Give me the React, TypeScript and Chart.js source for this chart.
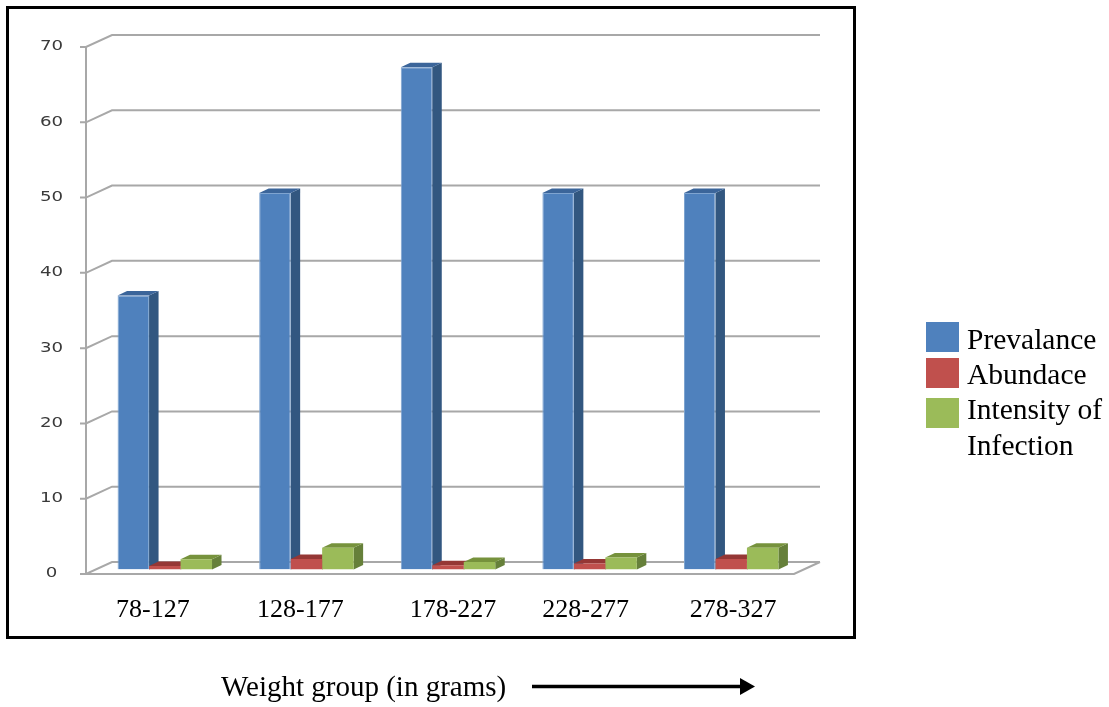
import React, { useEffect, useRef } from "react";
import { Chart, registerables } from "chart.js";

Chart.register(...registerables);

const weightGroups = ["78-127", "128-177", "178-227", "228-277", "278-327"];
const prevalance = [36.4, 50, 66.7, 50, 50];
const abundace = [0.45, 1.4, 0.55, 0.8, 1.4];
const intensity = [1.35, 2.9, 1.0, 1.6, 2.9];
const legendLines = [["Prevalance"], ["Abundace"], ["Intensity of", "Infection"]];
const labelNudges = [-4, 2, 13, 4, 10];
const yTicks = [0, 10, 20, 30, 40, 50, 60, 70];

const WIDTH = 1109;
const HEIGHT = 707;
const WALL_DX = 26;
const WALL_DY = -12;
const BAR_DX = 8;
const BAR_DY = -4.5;
const DEPTH_DX = 9.5;
const DEPTH_DY = -4.5;
const GRID = "#A8A8A8";
const SERIF = '"Liberation Serif", serif';

const faces = [
  { front: "#4F81BD", edge: "#7FA4D0", top: "#3B659A", side: "#325780" },
  { front: "#C0504D", edge: "#C0504D", top: "#953735", side: "#8C3A38" },
  { front: "#9BBB59", edge: "#9BBB59", top: "#76923C", side: "#66803A" },
];

// Back wall, floor and axis lines, then the depth faces of every bar.
const wallPlugin = {
  id: "wall",
  beforeDatasetsDraw(chart: any) {
    const { ctx, chartArea: a, scales } = chart;
    const y = scales.y;
    ctx.save();
    ctx.strokeStyle = GRID;
    ctx.lineWidth = 2;
    ctx.beginPath();
    for (const t of yTicks) {
      const py = y.getPixelForValue(t);
      ctx.moveTo(a.left - 6, py);
      ctx.lineTo(a.left, py);
      ctx.lineTo(a.left + WALL_DX, py + WALL_DY);
      ctx.lineTo(a.right + WALL_DX, py + WALL_DY);
    }
    ctx.moveTo(a.left, a.top);
    ctx.lineTo(a.left, a.bottom);
    ctx.moveTo(a.left, a.bottom);
    ctx.lineTo(a.right, a.bottom);
    ctx.lineTo(a.right + WALL_DX, a.bottom + WALL_DY);
    ctx.stroke();
    ctx.restore();

    // Painted left to right so a neighbour's faces sit over the previous bar's side.
    ctx.save();
    ctx.translate(BAR_DX, BAR_DY);
    faces.forEach((face, index) => {
      for (const bar of chart.getDatasetMeta(index).data) {
        const { x, y: top, base, width } = bar.getProps(["x", "y", "base", "width"], true);
        const l = x - width / 2;
        const r = x + width / 2;
        ctx.fillStyle = face.side;
        ctx.beginPath();
        ctx.moveTo(r, top);
        ctx.lineTo(r + DEPTH_DX, top + DEPTH_DY);
        ctx.lineTo(r + DEPTH_DX, base + DEPTH_DY);
        ctx.lineTo(r, base);
        ctx.closePath();
        ctx.fill();
        ctx.fillStyle = face.top;
        ctx.beginPath();
        ctx.moveTo(l, top);
        ctx.lineTo(l + DEPTH_DX, top + DEPTH_DY);
        ctx.lineTo(r + DEPTH_DX, top + DEPTH_DY);
        ctx.lineTo(r, top);
        ctx.closePath();
        ctx.fill();
      }
    });
    ctx.restore();
  },
  // The bars stand slightly inside the floor, so the fronts are shifted as a layer.
  beforeDatasetDraw(chart: any) {
    chart.ctx.save();
    chart.ctx.translate(BAR_DX, BAR_DY);
  },
  afterDatasetDraw(chart: any) {
    chart.ctx.restore();
  },
};

// Frame, axis text, side legend and the arrow under the chart.
const annotationPlugin = {
  id: "annotations",
  beforeDraw(chart: any) {
    const { ctx } = chart;
    ctx.save();
    ctx.fillStyle = "#FFFFFF";
    ctx.fillRect(0, 0, WIDTH, HEIGHT);
    ctx.strokeStyle = "#000000";
    ctx.lineWidth = 3;
    ctx.strokeRect(7.5, 7.5, 847, 630);
    ctx.restore();
  },
  afterDraw(chart: any) {
    const { ctx, scales } = chart;
    ctx.save();
    ctx.textBaseline = "middle";

    // Value labels are wide and flat, so the text is stretched horizontally.
    ctx.fillStyle = "#3A3A3A";
    ctx.font = '14px "DejaVu Sans", sans-serif';
    ctx.textAlign = "center";
    for (const t of yTicks) {
      ctx.save();
      ctx.translate(51.5, scales.y.getPixelForValue(t));
      ctx.scale(1.3, 0.95);
      ctx.fillText(String(t), 0, 0);
      ctx.restore();
    }

    ctx.fillStyle = "#000000";
    ctx.font = `26px ${SERIF}`;
    weightGroups.forEach((label, i) => {
      ctx.fillText(label, scales.x.getPixelForValue(i) + labelNudges[i], 610);
    });

    ctx.font = `29px ${SERIF}`;
    ctx.textAlign = "left";
    ctx.fillText("Weight group (in grams)", 221, 688);

    ctx.strokeStyle = "#000000";
    ctx.lineWidth = 3.5;
    ctx.beginPath();
    ctx.moveTo(532, 686.5);
    ctx.lineTo(742, 686.5);
    ctx.stroke();
    ctx.beginPath();
    ctx.moveTo(740, 678);
    ctx.lineTo(755, 686.5);
    ctx.lineTo(740, 695);
    ctx.closePath();
    ctx.fill();

    const swatchTops = [322, 358, 398];
    const lineTops = [341, 376, 411];
    ctx.font = `29.5px ${SERIF}`;
    legendLines.forEach((lines, i) => {
      ctx.fillStyle = faces[i].front;
      ctx.fillRect(926, swatchTops[i], 33, 30);
      ctx.fillStyle = "#000000";
      lines.forEach((line, j) => {
        ctx.fillText(line, 967, lineTops[i] + j * 36);
      });
    });
    ctx.restore();
  },
};

export default function App() {
  const canvasRef = useRef<HTMLCanvasElement>(null);

  useEffect(() => {
    const series = [prevalance, abundace, intensity];
    const names = ["Prevalance", "Abundace", "Intensity of Infection"];
    const chart = new Chart(canvasRef.current!, {
      type: "bar",
      data: {
        labels: weightGroups,
        datasets: series.map((data, i) => ({
          label: names[i],
          data,
          backgroundColor: faces[i].front,
          borderColor: faces[i].edge,
          borderWidth: i === 0 ? 1 : 0,
          categoryPercentage: 0.667,
          barPercentage: 1,
        })),
      },
      options: {
        animation: false,
        responsive: false,
        layout: { padding: { left: 86, right: 315, top: 47, bottom: 133 } },
        plugins: { legend: { display: false }, tooltip: { enabled: false } },
        scales: {
          x: { display: false },
          y: { display: false, min: 0, max: 70, ticks: { stepSize: 10 } },
        },
      },
      plugins: [wallPlugin, annotationPlugin],
    } as any);
    return () => chart.destroy();
  }, []);

  return (
    <canvas
      ref={canvasRef}
      width={WIDTH}
      height={HEIGHT}
      style={{ position: "absolute", left: 0, top: 0, display: "block" }}
    />
  );
}
